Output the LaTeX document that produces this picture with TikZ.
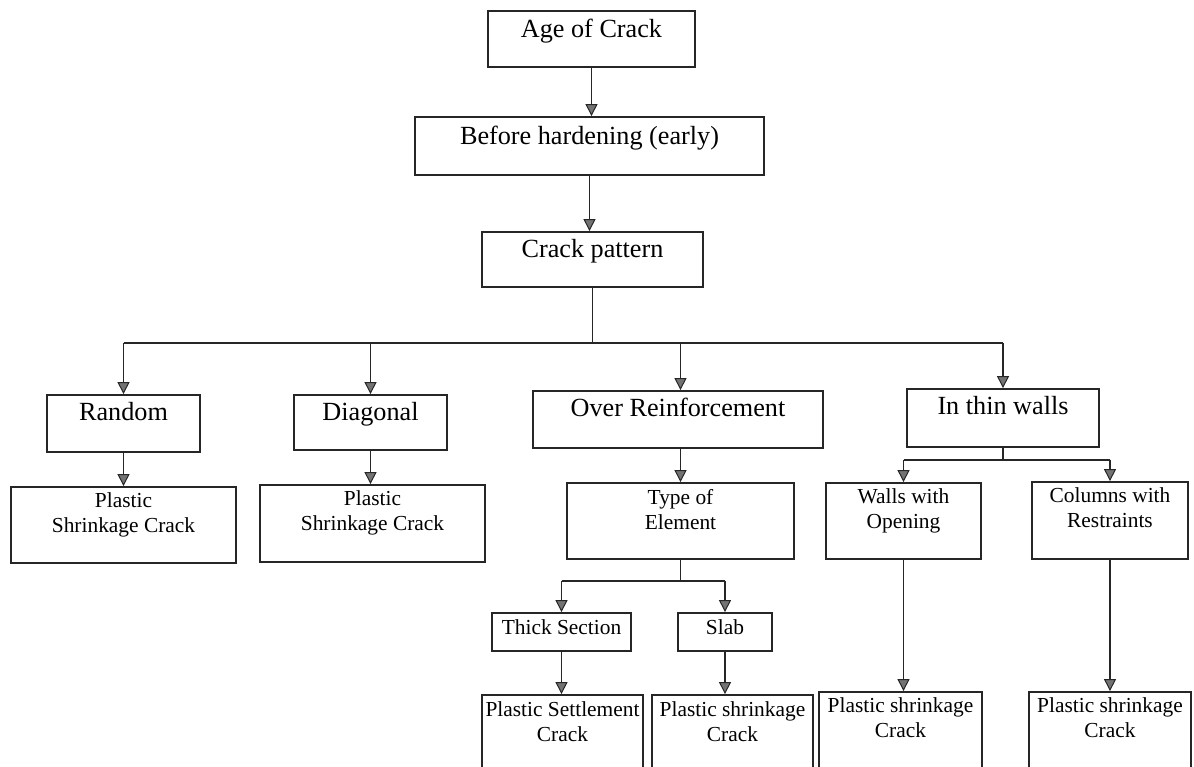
\documentclass[tikz,border=0pt]{standalone}
\usepackage{fontspec}
\setmainfont{Liberation Serif}
\usetikzlibrary{arrows.meta}
\newcommand{\twoln}[2]{\begin{tabular}[t]{@{}c@{}}#1\\#2\end{tabular}}
\begin{document}
\begin{tikzpicture}[x=1pt,y=-1pt,
  box/.style={draw=black!85,line width=1.8pt,inner sep=0pt},
  big/.style={font=\fontsize{26.2}{30}\selectfont,anchor=base,inner sep=0pt},
  small/.style={font=\fontsize{21.4}{25}\selectfont,anchor=base,inner sep=0pt},
  conn/.style={draw=black!85,line width=1.7pt},
  arr/.style={conn,-{Triangle[width=12pt,length=12pt,fill=black!55,line width=1pt]}}
]
\useasboundingbox (0,0) rectangle (1194,766);
\clip (0,0) rectangle (1194,766);
% boxes
\node[box,minimum width=207,minimum height=56] (age) at (591.5,39) {};
\node[box,minimum width=349,minimum height=58] (before) at (589.5,146) {};
\node[box,minimum width=221,minimum height=55] (cp) at (592.5,259.5) {};
\node[box,minimum width=153,minimum height=57] (random) at (123.5,423.5) {};
\node[box,minimum width=153,minimum height=55] (diag) at (370.5,422.5) {};
\node[box,minimum width=290,minimum height=57] (over) at (678,419.5) {};
\node[box,minimum width=192,minimum height=58] (thin) at (1003,418) {};
\node[box,minimum width=225,minimum height=76] (ps1) at (123.5,525) {};
\node[box,minimum width=225,minimum height=77] (ps2) at (372.5,523.5) {};
\node[box,minimum width=227,minimum height=76] (type) at (680.5,521) {};
\node[box,minimum width=155,minimum height=76] (walls) at (903.5,521) {};
\node[box,minimum width=156,minimum height=77] (cols) at (1110,520.5) {};
\node[box,minimum width=139,minimum height=38] (thick) at (561.5,632) {};
\node[box,minimum width=94,minimum height=38] (slab) at (725,632) {};
\node[box,minimum width=161,minimum height=80] (pset) at (562.5,735) {};
\node[box,minimum width=161,minimum height=80] (pshr) at (732.5,735) {};
\node[box,minimum width=163,minimum height=83] (ps3) at (900.5,733.5) {};
\node[box,minimum width=162,minimum height=83] (ps4) at (1110,733.5) {};
% labels
\node[big] (tage) at ([yshift=-27pt]age.north) {Age of Crack};
\node[big] (tbefore) at ([yshift=-28pt]before.north) {Before hardening (early)};
\node[big] (tcp) at ([yshift=-26pt]cp.north) {Crack pattern};
\node[big] (trandom) at ([yshift=-26pt]random.north) {Random};
\node[big] (tdiag) at ([yshift=-26pt]diag.north) {Diagonal};
\node[big] (tover) at ([yshift=-26pt]over.north) {Over Reinforcement};
\node[big] (tthin) at ([yshift=-26pt]thin.north) {In thin walls};
\node[small] (tps1) at ([yshift=-21.5pt]ps1.north) {\twoln{Plastic}{Shrinkage Crack}};
\node[small] (tps2) at ([yshift=-21.5pt]ps2.north) {\twoln{Plastic}{Shrinkage Crack}};
\node[small] (ttype) at ([yshift=-22pt]type.north) {\twoln{Type of}{Element}};
\node[small] (twalls) at ([yshift=-21pt]walls.north) {\twoln{Walls with}{Opening}};
\node[small] (tcols) at ([yshift=-21pt]cols.north) {\twoln{Columns with}{Restraints}};
\node[small] (tthick) at ([yshift=-22pt]thick.north) {Thick Section};
\node[small] (tslab) at ([yshift=-22pt]slab.north) {Slab};
\node[small] (tpset) at ([yshift=-22pt]pset.north) {\twoln{Plastic Settlement}{Crack}};
\node[small] (tpshr) at ([yshift=-22pt]pshr.north) {\twoln{Plastic shrinkage}{Crack}};
\node[small] (tps3) at ([yshift=-21pt]ps3.north) {\twoln{Plastic shrinkage}{Crack}};
\node[small] (tps4) at ([yshift=-21pt]ps4.north) {\twoln{Plastic shrinkage}{Crack}};
% connectors
\draw[arr] (age.south) -- (age.south |- before.north);
\draw[arr] (before.south) -- (before.south |- cp.north);
\draw[conn] (cp.south) -- ++(0,55) coordinate (j1);
\draw[conn] (random.north |- j1) -- (thin.north |- j1);
\draw[arr] (random.north |- j1) -- (random.north);
\draw[arr] (diag.north |- j1) -- (diag.north);
\draw[arr] (type.north |- j1) -- (type.north |- over.north);
\draw[arr] (thin.north |- j1) -- (thin.north);
\draw[arr] (random.south) -- (random.south |- ps1.north);
\draw[arr] (diag.south) -- (diag.south |- ps2.north);
\draw[arr] (type.north |- over.south) -- (type.north);
\draw[conn] (type.south) -- ++(0,21) coordinate (j2);
\draw[conn] (thick.north |- j2) -- (slab.north |- j2);
\draw[arr] (thick.north |- j2) -- (thick.north);
\draw[arr] (slab.north |- j2) -- (slab.north);
\draw[arr] (thick.south) -- (thick.south |- pset.north);
\draw[arr] (slab.south) -- (slab.south |- pshr.north);
\draw[conn] (thin.south) -- ++(0,12) coordinate (j3);
\draw[conn] (walls.north |- j3) -- (cols.north |- j3);
\draw[arr] (walls.north |- j3) -- (walls.north);
\draw[arr] (cols.north |- j3) -- (cols.north);
\draw[arr] (walls.south) -- (walls.south |- ps3.north);
\draw[arr] (cols.south) -- (cols.south |- ps4.north);
\end{tikzpicture}
\end{document}
